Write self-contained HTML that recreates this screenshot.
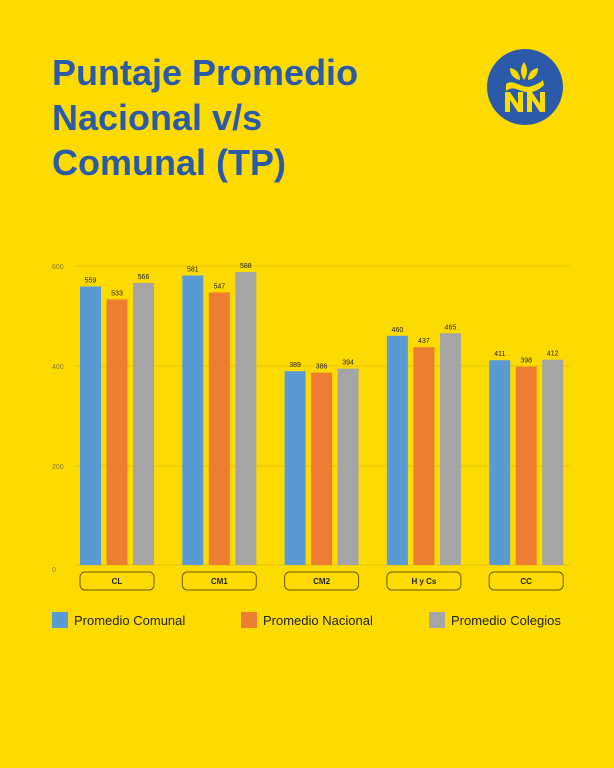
<!DOCTYPE html>
<html><head><meta charset="utf-8"><style>
body{margin:0;width:614px;height:768px;background:#FEDB00;overflow:hidden;font-family:"Liberation Sans",sans-serif}
h1{position:absolute;left:52px;top:50px;margin:0;font-size:36px;line-height:45px;color:#2B5BA8;font-weight:bold;letter-spacing:0px}
</style></head><body>
<h1>Puntaje Promedio<br>Nacional v/s<br>Comunal (TP)</h1>
<svg width="614" height="768" style="position:absolute;left:0;top:0" font-family="Liberation Sans, sans-serif">
<circle cx="525" cy="87" r="38" fill="#2B5BA8"/>
<g fill="#FEDB00">
<path d="M524 62c-4 6-4 12 0 18c4-6 4-12 0-18z"/>
<path d="M510 68c0 7 4 11 10 12c0-7-4-11-10-12z"/>
<path d="M538 68c0 7-4 11-10 12c0-7 4-11 10-12z"/>
<path d="M506 84c8-6 16 6 26 2c6-2 9-4 11-6l1 5c-6 6-12 8-18 7c-8-1-12-7-20-1z"/>
<path d="M505 92h5l8 12v-12h5v20h-5l-8-12v12h-5z"/>
<path d="M527 92h5l8 12v-12h5v20h-5l-8-12v12h-5z"/>
</g>
<g stroke="#E6C500" stroke-width="1">
<line x1="75" y1="266" x2="570" y2="266"/><line x1="75" y1="366" x2="570" y2="366"/><line x1="75" y1="466" x2="570" y2="466"/><line x1="75" y1="565" x2="570" y2="565"/>
</g>
<g font-size="7" fill="#8a7a30"><text x="52" y="269">600</text><text x="52" y="369">400</text><text x="52" y="469">200</text><text x="52" y="572">0</text></g>
<g id="bars" font-size="7" fill="#222" text-anchor="middle"></g>
<g font-size="8" font-weight="bold" fill="#222" text-anchor="middle" id="cats"></g>
<rect x="52" y="612" width="16" height="16" fill="#5B9BD5"/><text x="74" y="625" font-size="13" fill="#222">Promedio Comunal</text>
<rect x="241" y="612" width="16" height="16" fill="#ED7D31"/><text x="263" y="625" font-size="13" fill="#222">Promedio Nacional</text>
<rect x="429" y="612" width="16" height="16" fill="#A5A5A5"/><text x="451" y="625" font-size="13" fill="#222">Promedio Colegios</text>
</svg>
<script>
var d=[["CL",559,533,566],["CM1",581,547,588],["CM2",389,386,394],["H y Cs",460,437,465],["CC",411,398,412]];
var c=["#5B9BD5","#ED7D31","#A5A5A5"],s="",t="";
d.forEach(function(g,i){var x0=80+i*102.3;
for(var k=0;k<3;k++){var v=g[k+1],h=v*0.4983,x=x0+k*26.5;
s+='<rect x="'+x+'" y="'+(565-h)+'" width="21" height="'+h+'" fill="'+c[k]+'"/>';
s+='<text x="'+(x+10.5)+'" y="'+(561-h)+'">'+v+'</text>';}
t+='<rect x="'+x0+'" y="572" width="74" height="18" rx="5" fill="none" stroke="#6b5a00" stroke-width="1"/><text x="'+(x0+37)+'" y="584">'+g[0]+'</text>';});
document.getElementById("bars").innerHTML=s;document.getElementById("cats").innerHTML=t;
</script>
</body></html>
